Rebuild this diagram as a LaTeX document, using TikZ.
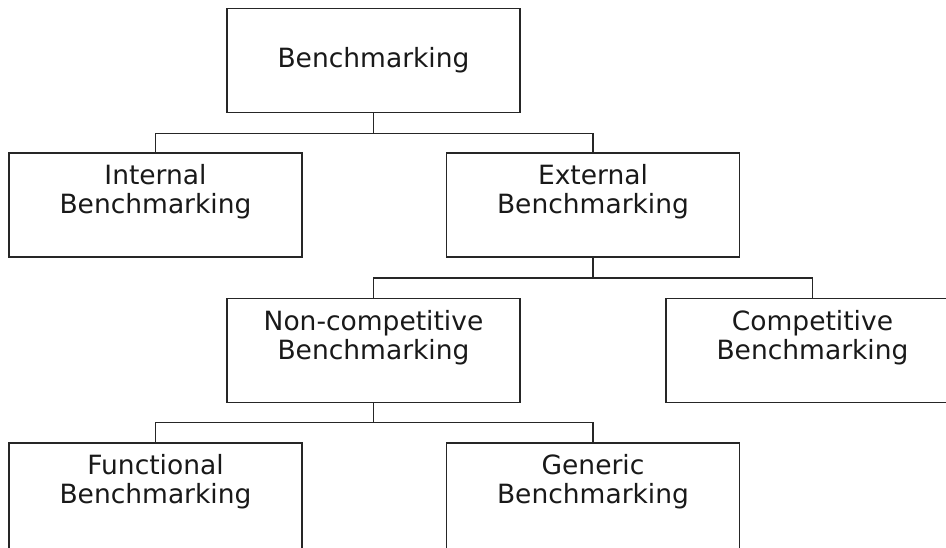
\documentclass[tikz,border=0pt]{standalone}
\usepackage{fontspec}
\setmainfont{DejaVu Sans}
\begin{document}
\begin{tikzpicture}[x=1pt,y=-1pt,
  box/.style={draw=black!85,line width=1.5pt,minimum width=293pt,minimum height=104pt,inner sep=0pt},
  openbox/.style={box,minimum height=130pt},
  lbl/.style={anchor=north,align=center,inner sep=0pt,text=black!90,font=\fontsize{26.5}{29}\selectfont},
  link/.style={draw=black!85,line width=1.5pt}]
\useasboundingbox (0,0) rectangle (946,547);
\fill[white] (0,0) rectangle (946,547);
\clip (0,0) rectangle (946,547);
% boxes (x = left edge + 146.5)
\node[box] (root) at (373.5,60.5) {};
\node[box] (int)  at (155.5,205) {};
\node[box] (ext)  at (593,205) {};
\node[box] (ncmp) at (373.5,350.5) {};
\node[box] (cmp)  at (812.5,350.5) {};
\node[openbox] (fun)  at (155.5,508) {};
\node[openbox] (gen)  at (593,508) {};
% labels
\node[anchor=center,inner sep=0pt,text=black!90,font=\fontsize{26.5}{29}\selectfont] (rootT) at (root.center) {Benchmarking};
\node[lbl] (intT)  at ([yshift=-12pt]int.north)  {Internal\\Benchmarking};
\node[lbl] (extT)  at ([yshift=-12pt]ext.north)  {External\\Benchmarking};
\node[lbl] (ncmpT) at ([yshift=-12pt]ncmp.north) {Non-competitive\\Benchmarking};
\node[lbl] (cmpT)  at ([yshift=-12pt]cmp.north)  {Competitive\\Benchmarking};
\node[lbl] (funT)  at ([yshift=-12pt]fun.north)  {Functional\\Benchmarking};
\node[lbl] (genT)  at ([yshift=-12pt]gen.north)  {Generic\\Benchmarking};
% tree connectors
\draw[link] (root.south) -- ++(0,20) -| (int.north);
\draw[link] (root.south) -- ++(0,20) -| (ext.north);
\draw[link] (ext.south) -- ++(0,20) -| (ncmp.north);
\draw[link] (ext.south) -- ++(0,20) -| (cmp.north);
\draw[link] (ncmp.south) -- ++(0,19) -| (fun.north);
\draw[link] (ncmp.south) -- ++(0,19) -| (gen.north);
\end{tikzpicture}
\end{document}
